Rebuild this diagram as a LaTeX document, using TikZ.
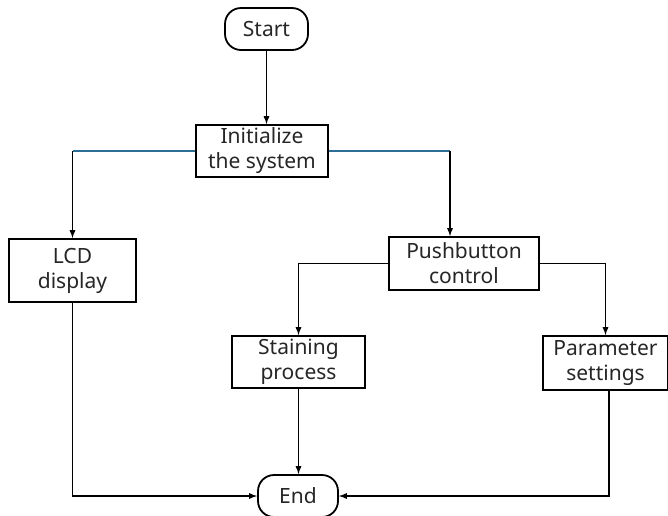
\documentclass[tikz,border=0pt]{standalone}
\usepackage{fontspec}
\setmainfont{Noto Sans}
\usepackage{tikz}
\usetikzlibrary{arrows,positioning}
\definecolor{linkblue}{RGB}{45,110,150}

\begin{document}
\begin{tikzpicture}[x=1pt,y=-1pt,
	box/.style={draw, line width=1.8pt, inner sep=0pt, align=center,
		font=\fontsize{21}{25}\selectfont, text=black!85},
	term/.style={box, rounded corners=16pt},
	arr/.style={->,>=latex, line width=1.7pt},
	tealline/.style={line width=1.7pt, color=linkblue}]
	
	\useasboundingbox (0,0) rectangle (668,515);
	
	% nodes
	\node[term, minimum width=83pt, minimum height=42pt] (start) at (266.5,29) {Start};
	\node[box, minimum width=132pt, minimum height=52pt] (init) at (262,151) {Initialize\\the system};
	\node[box, minimum width=127pt, minimum height=63pt] (lcd) at (72.5,270.5) {LCD\\display};
	\node[box, minimum width=150pt, minimum height=53pt] (push) at (464,263.5) {Pushbutton\\control};
	\node[box, minimum width=133pt, minimum height=52pt] (stain) at (298.5,362) {Staining\\process};
	\node[box, minimum width=125pt, minimum height=54pt] (param) at (605.5,363) {Parameter\\settings};
	\node[term, minimum width=80pt, minimum height=42pt] (end) at (298,496) {End};
	
	\coordinate (pushin) at ([xshift=-14pt]push.north);
	
	% connectors
	\draw[arr] (start.south) -- (start.south |- init.north);
	\draw[tealline] (init.west) -- (init.west -| lcd.north);
	\draw[arr] (init.west -| lcd.north) -- (lcd.north);
	\draw[tealline] (init.east) -- (init.east -| pushin);
	\draw[arr] (init.east -| pushin) -- (pushin);
	\draw[arr] (push.west) -| (stain.north);
	\draw[arr] (push.east) -| (param.north);
	\draw[arr] (stain.south) -- (stain.south |- end.north);
	\draw[arr] (lcd.south) |- (end.west);
	\draw[arr] ([xshift=3.5pt]param.south) |- (end.east);
\end{tikzpicture}
\end{document}
